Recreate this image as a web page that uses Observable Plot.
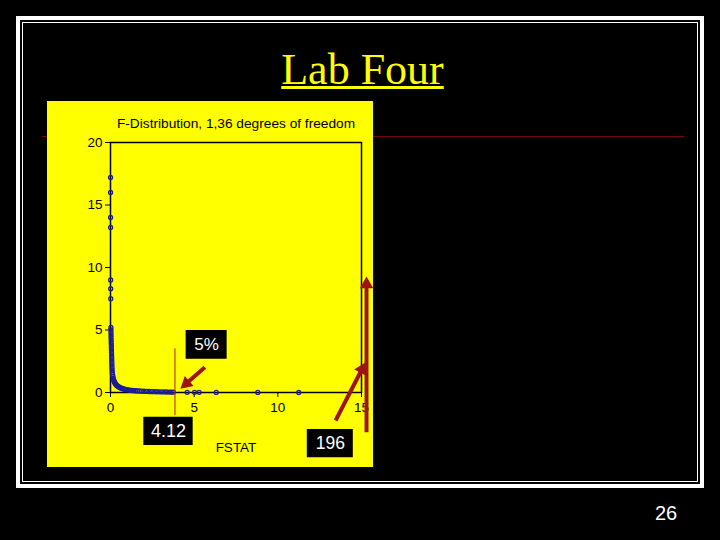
<!DOCTYPE html>
<html><head><meta charset="utf-8">
<script src="https://cdn.jsdelivr.net/npm/d3@7"></script>
<script src="https://cdn.jsdelivr.net/npm/@observablehq/plot@0.6"></script>
<style>
html,body{margin:0;padding:0;background:#000;}
#slide{position:relative;width:720px;height:540px;background:#000;overflow:hidden;}
.outer{position:absolute;left:16px;top:16px;width:688px;height:472px;box-sizing:border-box;border:4px solid #fff;}
.inner{position:absolute;left:22px;top:22px;width:676px;height:460px;box-sizing:border-box;border:1.5px solid #fff;}
.redline{position:absolute;left:42px;top:136px;width:642px;height:1px;background:#7a0a0a;}
.title{position:absolute;left:0;top:48px;width:725px;text-align:center;font:44px/44px "Liberation Serif","Times New Roman",serif;color:#ffff00;text-decoration:underline;text-decoration-thickness:3px;text-underline-offset:2px;}
.page{position:absolute;left:626px;top:503px;width:80px;text-align:center;font:20px/20px "Liberation Sans",Arial,sans-serif;color:#fff;}
#chart{position:absolute;left:47px;top:101px;line-height:0;}
</style></head>
<body>
<div id="slide">
  <div class="outer"></div>
  <div class="inner"></div>
  <div class="redline"></div>
  <div class="title">Lab Four</div>
  <div id="chart"></div>
  <div class="page">26</div>
</div>
<script>
// ---- data ----
const chartTitle = "F-Distribution, 1,36 degrees of freedom";
const xLabel = "FSTAT";
const xTicks = [0, 5, 10, 15];
const yTicks = [0, 5, 10, 15, 20];

const fstat = [0.003,0.004,0.005,0.006,0.010,0.012,0.015,0.025,0.028,0.030,0.033,0.036,0.040,0.044,0.048,0.052,0.056,0.060,0.065,0.070,0.075,0.080,0.085,0.09,0.1,0.11,0.12,0.14,0.16,0.18,0.2,0.22,0.25,0.28,0.31,0.35,0.39,0.43,0.48,0.53,0.58,0.64,0.7,0.76,0.83,0.9,0.97,1.05,1.13,1.22,1.31,1.4,1.5,1.6,1.72,1.85,2.0,2.15,2.3,2.45,2.6,2.75,2.9,3.05,3.2,3.35,3.5,3.62,3.75,4.58,5.02,5.3,6.32,8.8,11.25];
const density = [17.2,16.0,14.0,13.2,9.0,8.3,7.5,5.2,5.0,4.8,4.6,4.4,4.2,4.0,3.8,3.6,3.4,3.2,3.0,2.8,2.6,2.4,2.2,2.0,1.8,1.6,1.45,1.3,1.15,1.05,0.95,0.88,0.8,0.72,0.66,0.6,0.55,0.5,0.46,0.42,0.38,0.35,0.32,0.29,0.27,0.25,0.23,0.21,0.19,0.17,0.16,0.15,0.14,0.13,0.12,0.11,0.1,0.09,0.08,0.07,0.065,0.06,0.055,0.05,0.045,0.04,0.035,0.032,0.03,0.018,0.014,0.012,0.008,0.003,0.0015];

// annotations (in data units)
const critLine = [{x: 3.85, y1: -1.85, y2: 3.5}];
const arrowStartX = [5.64, 13.45, 15.30];
const arrowStartY = [2.02, -2.24, -3.18];
const arrowEndX   = [4.18, 15.24, 15.30];
const arrowEndY   = [0.30, 2.42, 9.28];
const boxText = ["5%", "4.12", "196"];
const boxX1 = [4.52, 1.99, 11.76];
const boxX2 = [6.97, 4.94, 14.51];
const boxY1 = [2.66, -4.24, -5.22];
const boxY2 = [4.96, -1.98, -2.96];
const boxFont = [17, 18, 17.5];

// ---- build ----
const W = 326, H = 366, ML = 63, MR = 12, MT = 41, MB = 75;
const xDomain = [0, 15], yDomain = [0, 20];
const kx = (W - ML - MR) / (xDomain[1] - xDomain[0]);
const ky = (H - MT - MB) / (yDomain[1] - yDomain[0]);

const points = fstat.map((f, i) => ({f, d: density[i]}));
const boxes = boxText.map((t, i) => ({t, x1: boxX1[i], x2: boxX2[i], y1: boxY1[i], y2: boxY2[i],
  cx: (boxX1[i] + boxX2[i]) / 2, cy: (boxY1[i] + boxY2[i]) / 2, fs: boxFont[i]}));

const headR = 5;
const headHalf = Math.sqrt(Math.PI * headR * headR / (3 * Math.sqrt(3))); // |y| of d3 triangle
const tipDist = 2 * headHalf, headLen = 3 * headHalf;
const shafts = [], heads = [];
arrowStartX.forEach((x1, i) => {
  const y1 = arrowStartY[i], x2 = arrowEndX[i], y2 = arrowEndY[i];
  const sx = (x2 - x1) * kx, sy = -(y2 - y1) * ky;
  const len = Math.hypot(sx, sy), ux = sx / len, uy = sy / len;
  const angle = Math.atan2(sx, -sy) * 180 / Math.PI;
  heads.push({x: x2 - ux * tipDist / kx, y: y2 + uy * tipDist / ky, angle});
  shafts.push({x1, y1, x2: x2 - ux * headLen * 0.7 / kx, y2: y2 + uy * headLen * 0.7 / ky});
});

const red = "#9e1414";
const plot = Plot.plot({
  width: W, height: H,
  marginLeft: ML, marginRight: MR, marginTop: MT, marginBottom: MB,
  x: {domain: xDomain},
  y: {domain: yDomain},
  style: {background: "#ffff00", color: "#000", fontFamily: '"Liberation Sans", Arial, sans-serif', fontSize: "13px", overflow: "visible"},
  marks: [
    Plot.axisY({ticks: yTicks, tickSize: 5, tickPadding: 3, label: null, fontSize: 13.5, tickFormat: d3.format("d")}),
    Plot.axisX({ticks: xTicks, tickSize: 5, tickPadding: 5, label: null, fontSize: 13.5, tickFormat: d3.format("d")}),
    Plot.frame({stroke: "#000", strokeWidth: 1.5}),
    Plot.dot(points, {x: "f", y: "d", r: 2, stroke: "#1c1c9a", fill: "none", strokeWidth: 1.3}),
    Plot.ruleX(critLine, {x: "x", y1: "y1", y2: "y2", stroke: "#b01c1c", strokeWidth: 1}),
    Plot.link(shafts, {x1: "x1", y1: "y1", x2: "x2", y2: "y2", stroke: red, strokeWidth: 4}),
    Plot.dot(heads, {x: "x", y: "y", symbol: "triangle", r: headR, fill: red, stroke: "none", rotate: "angle"}),
    Plot.rect(boxes, {x1: "x1", x2: "x2", y1: "y1", y2: "y2", fill: "#000"}),
    Plot.text(boxes, {x: "cx", y: "cy", text: "t", fill: "#fff", fontSize: "fs", lineAnchor: "middle"}),
    Plot.text([chartTitle], {frameAnchor: "top", dy: -15, lineAnchor: "bottom", fontSize: 13.7, fill: "#000"}),
    Plot.text([xLabel], {frameAnchor: "bottom", dy: 59.7, lineAnchor: "bottom", fontSize: 13.5, fill: "#000"})
  ]
});
document.getElementById("chart").appendChild(plot);
</script>
</body></html>
